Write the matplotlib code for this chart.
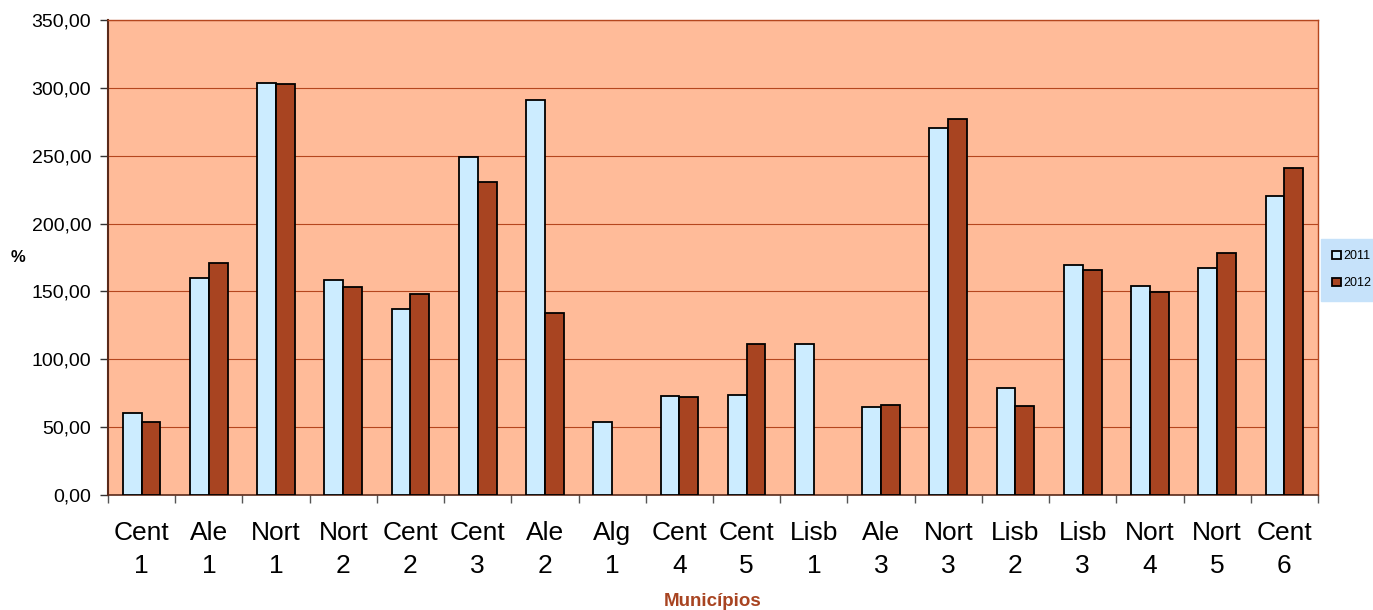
import matplotlib
matplotlib.use("Agg")
import matplotlib.pyplot as plt
import numpy as np

plt.rcParams["font.family"] = ["Liberation Sans", "DejaVu Sans"]

categories = ["Cent\n1", "Ale\n1", "Nort\n1", "Nort\n2", "Cent\n2", "Cent\n3", "Ale\n2", "Alg\n1",
              "Cent\n4", "Cent\n5", "Lisb\n1", "Ale\n3", "Nort\n3", "Lisb\n2", "Lisb\n3", "Nort\n4",
              "Nort\n5", "Cent\n6"]
values_2011 = [60.4, 159.9, 303.6, 158.4, 137.0, 249.0, 291.0, 53.8, 73.0, 73.7, 111.0, 64.8,
               270.4, 78.8, 169.5, 154.0, 167.3, 220.3]
values_2012 = [53.8, 171.0, 302.9, 153.3, 148.0, 230.6, 134.0, np.nan, 72.0, 111.0, np.nan, 66.3,
               277.0, 65.6, 165.8, 149.6, 178.3, 241.0]
series_names = ["2011", "2012"]
y_ticks = [0, 50, 100, 150, 200, 250, 300, 350]

plot_bg = "#FFBB99"
color_2011 = "#CCECFF"
color_2012 = "#A84421"
grid_color = "#B5461E"
label_color = "#A84421"

fig = plt.figure(figsize=(13.73, 6.10), dpi=100)
ax = fig.add_axes([108 / 1373, 1 - 495 / 610, 1210 / 1373, 475 / 610])
ax.set_facecolor(plot_bg)

x = np.arange(len(categories))
w = 0.28
ax.bar(x - w / 2, values_2011, width=w, color=color_2011, edgecolor="black", linewidth=1.3,
       label=series_names[0], zorder=3)
ax.bar(x + w / 2, values_2012, width=w, color=color_2012, edgecolor="black", linewidth=1.3,
       label=series_names[1], zorder=3)

ax.set_xlim(-0.5, len(categories) - 0.5)
ax.set_ylim(0, 350)
ax.set_yticks(y_ticks)
ax.set_yticklabels([f"{v:.2f}".replace(".", ",") for v in y_ticks], fontsize=14)
ax.yaxis.grid(True, color=grid_color, linewidth=0.8, zorder=1)
ax.set_axisbelow(True)

# category labels centred under each group; ticks mark the group boundaries
ax.set_xticks(x)
ax.set_xticklabels(categories, fontsize=19, linespacing=1.45)
ax.tick_params(axis="x", length=0, pad=19)
ax.set_xticks(np.arange(-0.5, len(categories)), minor=True)
ax.tick_params(axis="x", which="minor", length=6, color="#555555", width=1)
ax.tick_params(axis="y", length=6, color="#333333", width=1, pad=6)

for side in ["top", "right"]:
    ax.spines[side].set_color(grid_color)
    ax.spines[side].set_linewidth(1)
ax.spines["left"].set_color("#5A2A1A")
ax.spines["left"].set_linewidth(1.5)
ax.spines["bottom"].set_color("#5A2A1A")
ax.spines["bottom"].set_linewidth(1.2)

fig.text(18 / 1373, 1 - 257 / 610, "%", fontsize=12, fontweight="bold", ha="center", va="center")
fig.text(713 / 1373, 1 - 601 / 610, "Municípios", fontsize=13.5, fontweight="bold",
         color=label_color, ha="center", va="center")

leg = fig.legend(loc="upper left", bbox_to_anchor=(1321 / 1373, 1 - 239 / 610), fontsize=9,
                 frameon=True, fancybox=False, handlelength=0.7, handleheight=0.7,
                 handletextpad=0.2, borderpad=0.9, labelspacing=1.2, borderaxespad=0)
leg.get_frame().set_facecolor("#C6E2FA")
leg.get_frame().set_edgecolor("#C6E2FA")
leg.get_frame().set_alpha(1)

fig.savefig("out.png", dpi=100)
